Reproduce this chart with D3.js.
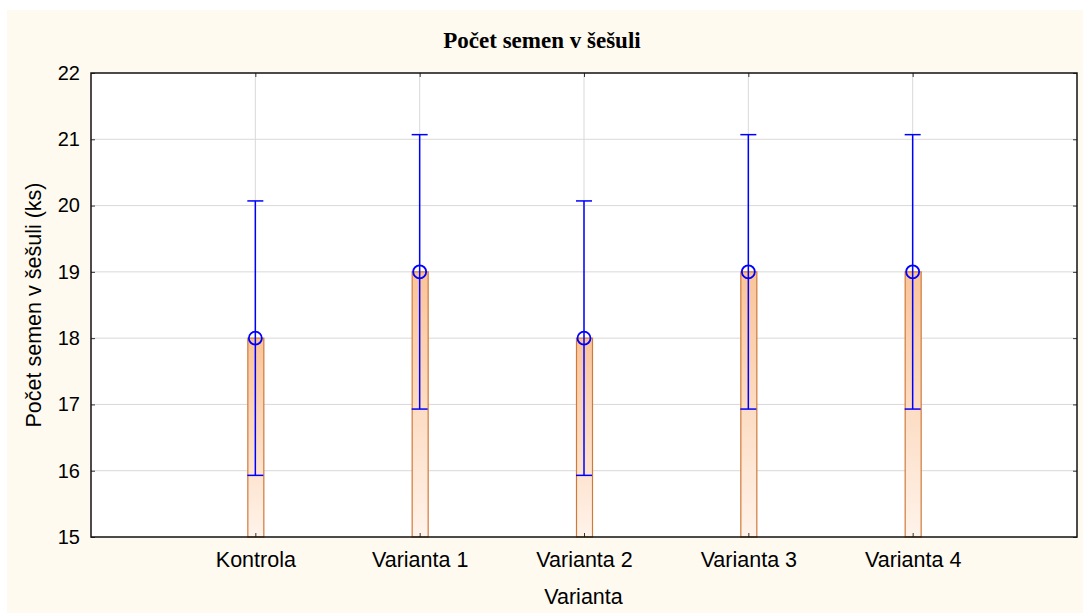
<!DOCTYPE html>
<html>
<head>
<meta charset="utf-8">
<script src="https://cdn.jsdelivr.net/npm/d3@7"></script>
<style>
  body { margin: 0; background: #fff; }
  text { font-family: 'Liberation Sans', Arial, sans-serif; }
</style>
</head>
<body>
<div id="chart"></div>
<script>
const categories = ['Kontrola', 'Varianta 1', 'Varianta 2', 'Varianta 3', 'Varianta 4']
const means = [18, 19, 18, 19, 19]
const upper = [20.07, 21.07, 20.07, 21.07, 21.07]
const lower = [15.93, 16.93, 15.93, 16.93, 16.93]
const yTicks = [15, 16, 17, 18, 19, 20, 21, 22]

const W = 1083
const H = 613
const margin = { top: 73, right: 6, bottom: 76, left: 91 }
const width = W - margin.left - margin.right
const height = H - margin.top - margin.bottom
const fs = '20px'
const fsLabel = '21.5px'

const svg = d3.select('#chart').append('svg')
  .attr('width', W)
  .attr('height', H)

const defs = svg.append('defs')
const grad = defs.append('linearGradient')
  .attr('id', 'barGrad')
  .attr('x1', 0).attr('y1', 0).attr('x2', 0).attr('y2', 1)
grad.append('stop').attr('offset', '0%').attr('stop-color', '#f9c49a')
grad.append('stop').attr('offset', '100%').attr('stop-color', '#fff3ea')

// cream background
svg.append('rect')
  .attr('x', 7).attr('y', 10)
  .attr('width', W - 7).attr('height', H - 10)
  .attr('fill', '#fefaf0')

svg.append('text')
  .attr('x', 542).attr('y', 48)
  .attr('text-anchor', 'middle')
  .style('font-family', "'Liberation Serif', 'Times New Roman', serif")
  .style('font-weight', 'bold')
  .style('font-size', '23px')
  .text('Počet semen v šešuli')

const g = svg.append('g')
  .attr('transform', `translate(${margin.left},${margin.top})`)

g.append('rect')
  .attr('width', width).attr('height', height)
  .attr('fill', '#fff')

const x = d3.scaleLinear().domain([0, categories.length + 1]).range([0, width])
const y = d3.scaleLinear().domain([15, 22]).range([height, 0])

// grid
g.selectAll('.hgrid')
  .data(yTicks.slice(1, -1))
  .enter().append('line')
  .attr('x1', 0).attr('x2', width)
  .attr('y1', d => y(d)).attr('y2', d => y(d))
  .attr('stroke', '#d9d9d9')

g.selectAll('.vgrid')
  .data(categories)
  .enter().append('line')
  .attr('x1', (d, i) => x(i + 1)).attr('x2', (d, i) => x(i + 1))
  .attr('y1', 0).attr('y2', height)
  .attr('stroke', '#d9d9d9')

// bars
const bw = 16
g.selectAll('.bar')
  .data(means)
  .enter().append('rect')
  .attr('x', (d, i) => x(i + 1) - bw / 2 + 0.5)
  .attr('y', d => y(d))
  .attr('width', bw)
  .attr('height', d => height - y(d))
  .attr('fill', 'url(#barGrad)')
  .attr('stroke', '#d07a3a')
  .attr('stroke-width', 1.2)

// error bars
const cap = 16
g.selectAll('.err')
  .data(means)
  .enter().append('line')
  .attr('x1', (d, i) => x(i + 1)).attr('x2', (d, i) => x(i + 1))
  .attr('y1', (d, i) => y(upper[i])).attr('y2', (d, i) => y(lower[i]))
  .attr('stroke', '#0000ff').attr('stroke-width', 1.5)

g.selectAll('.capU')
  .data(upper)
  .enter().append('line')
  .attr('x1', (d, i) => x(i + 1) - cap / 2).attr('x2', (d, i) => x(i + 1) + cap / 2)
  .attr('y1', d => y(d)).attr('y2', d => y(d))
  .attr('stroke', '#0000ff').attr('stroke-width', 1.5)

g.selectAll('.capL')
  .data(lower)
  .enter().append('line')
  .attr('x1', (d, i) => x(i + 1) - cap / 2).attr('x2', (d, i) => x(i + 1) + cap / 2)
  .attr('y1', d => y(d)).attr('y2', d => y(d))
  .attr('stroke', '#0000ff').attr('stroke-width', 1.5)

g.selectAll('.pt')
  .data(means)
  .enter().append('circle')
  .attr('cx', (d, i) => x(i + 1))
  .attr('cy', d => y(d))
  .attr('r', 6.5)
  .attr('fill', 'none')
  .attr('stroke', '#0000ff').attr('stroke-width', 1.8)

// axes
const yAxis = g.append('g')
  .call(d3.axisLeft(y).tickValues(yTicks).tickFormat(d3.format('d'))
    .tickSizeInner(-4).tickSizeOuter(0).tickPadding(11))
yAxis.select('.domain').remove()
yAxis.selectAll('text').style('font-size', fs).attr('fill', '#000')
yAxis.selectAll('line').attr('stroke', '#333')

const yAxisR = g.append('g')
  .attr('transform', `translate(${width},0)`)
  .call(d3.axisRight(y).tickValues(yTicks).tickSizeInner(-4).tickSizeOuter(0).tickFormat(''))
yAxisR.select('.domain').remove()
yAxisR.selectAll('line').attr('stroke', '#333')

const xAxis = g.append('g')
  .attr('transform', `translate(0,${height})`)
  .call(d3.axisBottom(x).tickValues(categories.map((d, i) => i + 1))
    .tickFormat((d, i) => categories[i]).tickSizeInner(-4).tickSizeOuter(0).tickPadding(15))
xAxis.select('.domain').remove()
xAxis.selectAll('text').style('font-size', fsLabel).attr('fill', '#000')
xAxis.selectAll('line').attr('stroke', '#333')

const xAxisT = g.append('g')
  .call(d3.axisTop(x).tickValues(categories.map((d, i) => i + 1))
    .tickFormat('').tickSizeInner(-4).tickSizeOuter(0))
xAxisT.select('.domain').remove()
xAxisT.selectAll('line').attr('stroke', '#333')

// frame
g.append('rect')
  .attr('width', width).attr('height', height)
  .attr('fill', 'none')
  .attr('stroke', '#111').attr('stroke-width', 1.5)

svg.append('text')
  .attr('x', margin.left + width / 2 - 0.5).attr('y', 604)
  .attr('text-anchor', 'middle')
  .style('font-size', fsLabel)
  .text('Varianta')

svg.append('text')
  .attr('transform', `translate(41,${margin.top + height / 2}) rotate(-90)`)
  .attr('text-anchor', 'middle')
  .style('font-size', fsLabel)
  .text('Počet semen v šešuli (ks)')
</script>
</body>
</html>
